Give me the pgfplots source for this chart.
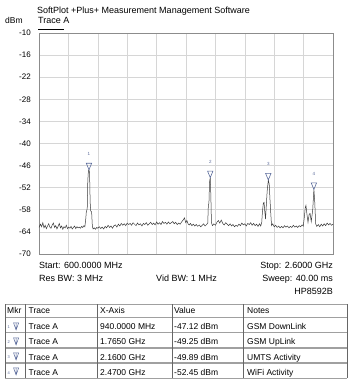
\documentclass[border=0pt]{standalone}
\usepackage{pgfplots}
\pgfplotsset{compat=1.18}
\usepackage{fontspec}
\setmainfont{Liberation Sans}
\definecolor{mkcol}{HTML}{5B6B9B}
\definecolor{gridc}{HTML}{D6D6D6}
\definecolor{framec}{HTML}{8C8C8C}
\definecolor{tracec}{HTML}{3A3A3A}
\definecolor{tabline}{HTML}{A0A0A0}

\pgfdeclareplotmark{mkrtri}{%
  \pgfpathmoveto{\pgfqpoint{-2.7pt}{6.5pt}}%
  \pgfpathlineto{\pgfqpoint{2.7pt}{6.5pt}}%
  \pgfpathlineto{\pgfqpoint{0pt}{0pt}}%
  \pgfpathclose
  \pgfusepathqstroke}

\pgfplotstableread{
x y
600 -62.8
610 -61.9
618 -62.6
626 -61.5
634 -62.9
642 -62.2
650 -63.1
658 -62.4
666 -61.8
674 -62.7
682 -63.0
690 -62.1
698 -61.6
706 -62.8
714 -62.3
722 -63.2
730 -62.5
738 -61.7
746 -62.9
754 -62.4
762 -63.3
770 -62.6
778 -62.9
786 -62.2
794 -63.1
802 -62.7
810 -63.0
818 -62.5
826 -63.2
834 -62.8
842 -62.4
850 -63.1
858 -62.6
866 -62.9
874 -62.7
882 -63.0
890 -62.5
898 -62.8
906 -62.3
912 -62.6
918 -60.5
922 -58.5
928 -57.8
932 -50
936 -47.5
940 -47.12
944 -48
948 -56
952 -58.3
958 -58.6
963 -62.5
968 -63.2
976 -62.9
984 -63.3
992 -62.8
1000 -63.0
1010 -62.6
1020 -63.1
1030 -62.7
1040 -63.2
1050 -62.5
1060 -62.9
1070 -62.2
1080 -62.8
1090 -62.4
1100 -63.0
1110 -62.3
1120 -62.1
1130 -62.7
1140 -61.9
1150 -62.4
1160 -61.7
1170 -62.2
1180 -61.8
1190 -62.3
1200 -61.6
1210 -62.0
1220 -61.7
1230 -62.2
1240 -61.5
1250 -61.9
1260 -62.3
1270 -61.6
1280 -62.1
1290 -61.8
1300 -62.4
1310 -61.7
1320 -62.0
1330 -61.5
1340 -62.2
1350 -61.8
1360 -61.4
1370 -62.0
1380 -61.6
1390 -62.1
1400 -61.3
1410 -61.9
1420 -61.5
1430 -62.0
1440 -61.2
1450 -61.7
1460 -61.4
1470 -61.9
1480 -61.3
1490 -61.8
1500 -61.5
1510 -61.2
1520 -61.8
1530 -61.4
1540 -62.0
1550 -61.6
1560 -61.9
1570 -61.3
1580 -60.8
1590 -60.2
1598 -61.5
1606 -60.9
1614 -61.8
1622 -62.1
1630 -61.7
1640 -62.3
1650 -61.9
1660 -62.4
1670 -62.0
1680 -62.5
1690 -62.1
1700 -62.6
1710 -62.2
1720 -61.8
1730 -62.4
1740 -62.0
1748 -61.6
1752 -56.8
1756 -56.2
1760 -50.5
1765 -49.25
1769 -54
1773 -61.5
1780 -62.3
1790 -61.8
1800 -62.2
1810 -61.4
1820 -60.9
1830 -61.6
1840 -60.8
1850 -61.7
1860 -62.1
1870 -61.5
1880 -61.9
1890 -62.3
1900 -61.8
1910 -62.4
1920 -62.0
1930 -62.6
1940 -62.2
1950 -62.5
1960 -61.9
1970 -62.3
1980 -61.6
1990 -62.1
2000 -61.8
2010 -62.4
2020 -61.7
2030 -62.0
2040 -61.5
2050 -62.2
2060 -61.7
2070 -62.3
2080 -61.9
2090 -62.5
2100 -61.8
2108 -62.4
2115 -61.5
2120 -58.5
2126 -56.2
2131 -56.0
2136 -58.5
2141 -60.5
2146 -57
2152 -53
2160 -49.89
2166 -51
2171 -55
2176 -58.5
2182 -62.3
2190 -61.8
2200 -62.6
2210 -62.2
2220 -62.8
2230 -62.4
2240 -62.9
2250 -62.5
2260 -62.9
2270 -62.3
2280 -62.7
2290 -62.4
2300 -62.9
2310 -62.5
2320 -62.8
2330 -62.2
2340 -62.7
2350 -62.4
2360 -62.8
2370 -62.3
2380 -62.6
2390 -62.1
2398 -62.4
2405 -60
2411 -57.5
2416 -56.8
2422 -59
2430 -61.4
2438 -59.2
2444 -59
2452 -61.2
2462 -58
2470 -52.45
2476 -56
2482 -61.8
2490 -62.5
2500 -62.0
2510 -62.6
2520 -61.9
2530 -62.4
2540 -61.8
2550 -62.3
2560 -61.6
2570 -62.1
2580 -61.7
2590 -62.2
2600 -61.9
}\tracedata

\pgfplotstableread{
x y m
940 -47.12 1
1765 -49.25 2
2160 -49.89 3
2470 -52.45 4
}\markerdata

\begin{document}
\begin{tikzpicture}[x=1pt,y=1pt]
\path (0,0) rectangle (349,383);
\begin{axis}[
  at={(39pt,129pt)}, anchor=south west,
  scale only axis, width=294pt, height=221pt,
  xmin=600, xmax=2600, ymin=-70, ymax=-10,
  xtick={600,800,...,2600}, xticklabels={},
  ytick={-70,-64,-58,-52,-46,-40,-34,-28,-22,-16,-10},
  yticklabels={-70,-64,-58,-52,-46,-40,-34,-28,-22,-16,-10},
  major tick length=0pt,
  grid=major,
  grid style={gridc, line width=0.6pt},
  axis line style={framec, line width=0.8pt},
  yticklabel style={font=\fontsize{8}{9}\selectfont, anchor=east, inner sep=0pt, xshift=-8pt},
  clip=false,
]
\addplot[tracec, line width=0.5pt, mark=none] table[x=x,y=y]{\tracedata};
\addplot[only marks, mark=mkrtri, mkcol, mark options={line width=0.6pt},
  nodes near coords, point meta=explicit symbolic,
  every node near coord/.style={font=\fontsize{4.5}{5}\selectfont, color=mkcol, anchor=south, inner sep=0pt, yshift=14pt}]
  table[x=x,y=y,meta=m]{\markerdata};
\end{axis}
% header texts
\node[anchor=base west, inner sep=0pt, font=\fontsize{9}{10}\selectfont] at (37,369.7) {SoftPlot +Plus+ Measurement Management Software};
\node[anchor=base west, inner sep=0pt, font=\fontsize{8.5}{10}\selectfont] at (5,359) {dBm};
\node[anchor=base west, inner sep=0pt, font=\fontsize{9}{10}\selectfont] at (38,359) {Trace A};
\draw[black, line width=0.6pt] (38,353.7) -- (63.5,353.7);
% footer texts
\begin{scope}[every node/.style={inner sep=0pt, font=\fontsize{9}{10}\selectfont}]
\node[anchor=base west] at (39,114.7) {Start: 600.0000 MHz};
\node[anchor=base west] at (39,101.3) {Res BW: 3 MHz};
\node[anchor=base west] at (156,101.3) {Vid BW: 1 MHz};
\node[anchor=base east] at (333,114.7) {Stop: 2.6000 GHz};
\node[anchor=base east] at (333,101.3) {Sweep: 40.00 ms};
\node[anchor=base east] at (333,88) {HP8592B};
\end{scope}
% table
\draw[tabline, line width=1.1pt] (5,78.5) -- (347,78.5);
\foreach \yy in {65.5,50.5,35,20,4.5} {\draw[tabline, line width=1.1pt] (5,\yy) -- (347,\yy);}
\foreach \xx in {5,25,97,172,243,347} {\draw[black!60, line width=0.6pt] (\xx,78.5) -- (\xx,4.5);}
\begin{scope}[every node/.style={inner sep=0pt, anchor=base west, font=\fontsize{8.5}{10}\selectfont}]
\node at (7,69) {Mkr};
\node at (28.5,69) {Trace};
\node at (100,69) {X-Axis};
\node at (174,69) {Value};
\node at (247,69) {Notes};
\foreach \b/\i/\xa/\va/\na in {53/1/940.0000 MHz/-47.12 dBm/GSM DownLink,38/2/1.7650 GHz/-49.25 dBm/GSM UpLink,23/3/2.1600 GHz/-49.89 dBm/UMTS Activity,8/4/2.4700 GHz/-52.45 dBm/WiFi Activity} {
  \node at (28.5,\b) {Trace A};
  \node at (100,\b) {\xa};
  \node at (174,\b) {\va};
  \node at (247,\b) {\na};
  \node[font=\fontsize{4}{5}\selectfont, mkcol] at (7.5,\b+1) {\i};
  \draw[mkcol, line width=0.5pt] (13.6,\b+7) -- (18.6,\b+7) -- (16.1,\b) -- cycle (16.1,\b+7) -- (16.1,\b);
}
\end{scope}
\end{tikzpicture}
\end{document}
